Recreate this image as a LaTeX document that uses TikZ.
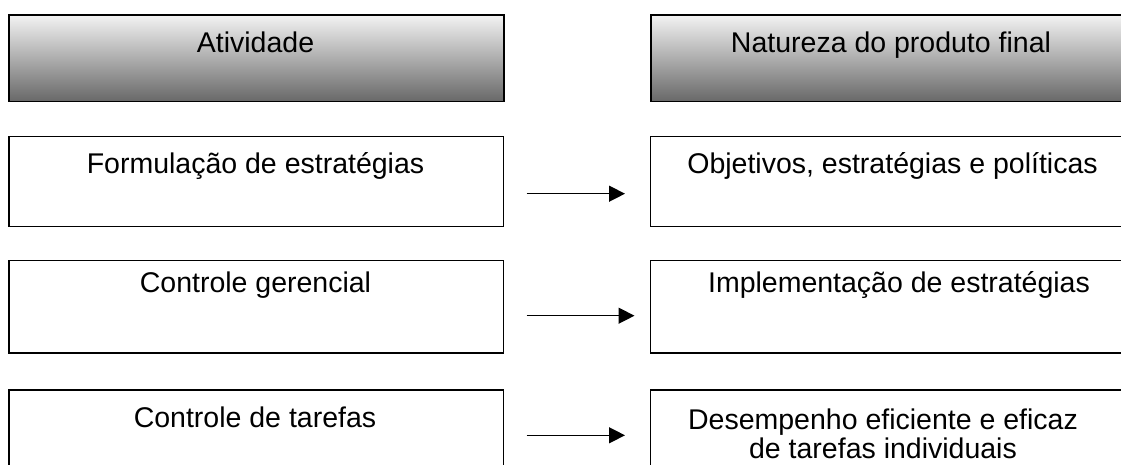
\documentclass[tikz,border=0pt]{standalone}
\usepackage{fontspec}
\setmainfont{Liberation Sans}
\usetikzlibrary{arrows.meta}
\definecolor{gtop}{RGB}{243,243,243}
\definecolor{gmid}{RGB}{192,192,192}
\definecolor{gbot}{RGB}{104,104,104}
\begin{document}
\begin{tikzpicture}[x=1pt,y=-1pt,
  box/.style={draw=black, line width=1.3pt, fill=white, rectangle, inner sep=0pt, anchor=north west},
  head/.style={box, top color=gtop, middle color=gmid, bottom color=gbot, line width=1.6pt},
  lbl/.style={anchor=base, inner sep=0pt, font=\fontsize{28.5}{29}\selectfont, align=center},
  arr/.style={line width=1.4pt, -{Triangle[length=16pt,width=16pt]}}]
\useasboundingbox (0,0) rectangle (1121,465);
\clip (0,0) rectangle (1121,465);
% headers
\node[head, minimum width=494.7pt, minimum height=86.7pt] (hA) at (8.3,14) {};
\node[head, minimum width=482pt, minimum height=86.7pt] (hN) at (650,14) {};
% row boxes
\node[box, minimum width=494.7pt, minimum height=90.3pt] (bF) at (8.3,135.7) {};
\node[box, minimum width=482pt, minimum height=90.3pt] (bO) at (650,135.7) {};
\node[box, minimum width=494.7pt, minimum height=92.6pt] (bCG) at (8.3,259.7) {};
\node[box, minimum width=482pt, minimum height=92.6pt] (bI) at (650,259.7) {};
\node[box, minimum width=494.7pt, minimum height=92.6pt] (bCT) at (8.3,389.3) {};
\node[box, minimum width=482pt, minimum height=92.6pt] (bD) at (650,389.3) {};
% texts
\node[lbl] (tA) at (255.5,53) {Atividade};
\node[lbl] (tN) at (891,53) {Natureza do produto final};
\node[lbl] (tF) at (255.5,173.5) {Formulação de estratégias};
\node[lbl] (tO) at (892.5,173.5) {Objetivos, estratégias e políticas};
\node[lbl] (tCG) at (255.5,292) {Controle gerencial};
\node[lbl] (tI) at (899,292) {Implementação de estratégias};
\node[lbl] (tCT) at (255,427.7) {Controle de tarefas};
\node[lbl] (tD) at (883,458.3) {Desempenho eficiente e eficaz\\de tarefas individuais};
% arrows
\coordinate (a1s) at (526.7,193.7);
\coordinate (a1e) at (625,193.7);
\coordinate (a2s) at (526.7,315.7);
\coordinate (a2e) at (634.5,315.7);
\coordinate (a3s) at (526.7,435.3);
\coordinate (a3e) at (625,435.3);
\draw[arr] (a1s) -- (a1e);
\draw[arr] (a2s) -- (a2e);
\draw[arr] (a3s) -- (a3e);
\end{tikzpicture}
\end{document}
